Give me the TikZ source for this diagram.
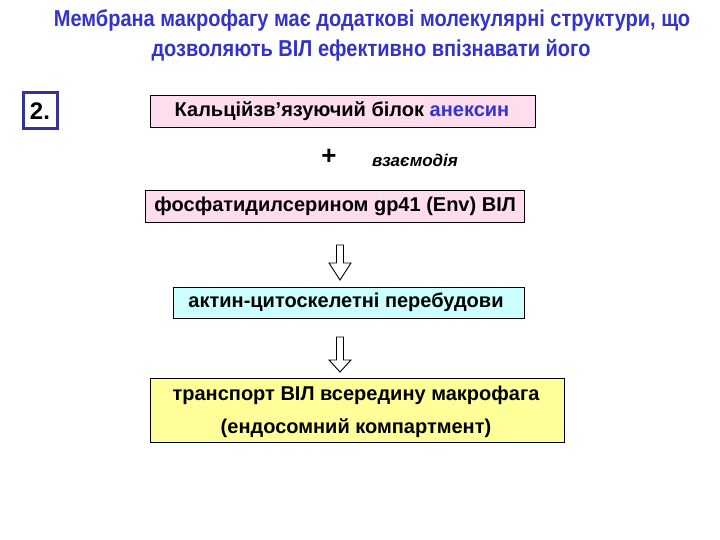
\documentclass[tikz,border=0pt]{standalone}
\usepackage{fontspec}
\setmainfont{Liberation Sans}
\definecolor{ttl}{HTML}{3333CC}
\definecolor{pinkf}{HTML}{FFDDEE}
\definecolor{cyanf}{HTML}{CCFFFF}
\definecolor{yelf}{HTML}{FFFF99}
\definecolor{numb}{HTML}{333399}
\tikzset{
  x=1pt,y=-1pt,
  box/.style={draw=black,line width=1.3pt,inner sep=0pt,anchor=north west},
  btext/.style={font=\bfseries\fontsize{20}{22}\selectfont},
  ttext/.style={text=ttl,font=\bfseries\fontsize{20}{22}\selectfont,yscale=1.15},
  hollow/.style={draw=black,fill=white,line width=0.9pt,line join=miter}
}
\newcommand{\hollowarrow}[3]{% top coordinate, head start offset, tip offset
  \path[hollow] (#1) ++(-3.5,0) -- ++(0,#2) -- ++(-7.5,0) -- ++(11,#3) -- ++(11,-#3) -- ++(-7.5,0) -- ++(0,-#2) -- cycle;}
\begin{document}
\begin{tikzpicture}
\useasboundingbox (0,0) rectangle (720,540);
\node[ttext] (t1) at (372,20) {Мембрана макрофагу має додаткові молекулярні структури, що};
\node[ttext] (t2) at (371,50) {дозволяють ВІЛ ефективно впізнавати його};
\node[draw=numb,line width=3pt,minimum width=34pt,minimum height=36pt,inner sep=0pt,font=\bfseries\fontsize{24}{26}\selectfont] (n) at (40,111) {2.};
\node[box,fill=pinkf,minimum width=385pt,minimum height=32pt] (b1) at (150,95) {};
\node[btext] (b1t) at (342,111) {Кальційзв’язуючий білок \textcolor{ttl}{анексин}};
\node[font=\bfseries\fontsize{26}{28}\selectfont] (plus) at (329,157) {+};
\node[font=\bfseries\itshape\fontsize{17}{19}\selectfont] (vz) at (415,160) {взаємодія};
\node[box,fill=pinkf,minimum width=379pt,minimum height=32pt] (b2) at (145,190) {};
\node[btext] (b2t) at (b2.center) {фосфатидилсерином gp41 (Env) ВІЛ};
\coordinate (a1) at (340,245);
\hollowarrow{a1}{18}{17}
\node[box,fill=cyanf,minimum width=351pt,minimum height=31pt] (b3) at (173,287) {};
\node[btext] (b3t) at (346,302) {актин-цитоскелетні перебудови};
\coordinate (a2) at (340,337);
\hollowarrow{a2}{23}{12}
\node[box,fill=yelf,minimum width=414pt,minimum height=64pt] (b4) at (150,378) {};
\node[btext] (b4t1) at (356,395) {транспорт ВІЛ всередину макрофага};
\node[btext] (b4t2) at (356,428) {(ендосомний компартмент)};
\end{tikzpicture}
\end{document}
